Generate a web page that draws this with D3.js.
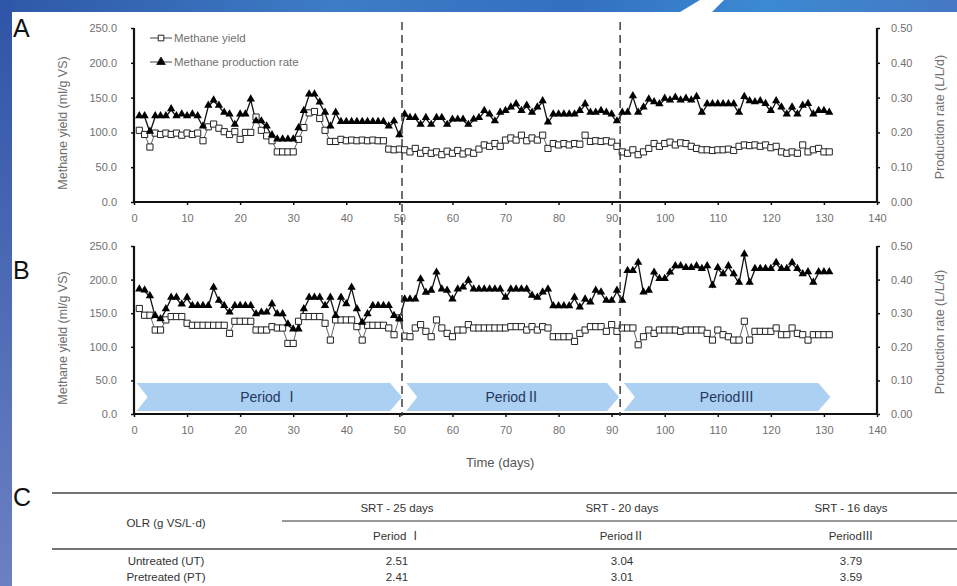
<!DOCTYPE html>
<html lang="en">
  <head>
    <meta charset="utf-8">
    <title>Methane yield and production rate</title>
    <script src="https://d3js.org/d3.v7.js"></script>
    <style>
      body { margin: 0; background: white; }
      text { font-family: "Liberation Sans", Arial, sans-serif; }
      .roman { font-family: "Liberation Sans", "Noto Sans CJK SC", sans-serif; }
    </style>
  </head>
  <body>
    <script>
    const w = 957;
    const h = 586;

    // days 1..131
    const days = d3.range(1, 132);

    const yieldA = [103,97,79,99,97,99,97,99,96,99, 97,99,88,108,112,106,101,97,101,90,
      100,100,122,103,95,88,72,72,72,72, 90,107,128,130,120,103,87,87,90,88,
      89,88,89,88,89,88,88,76,75,76, 75,72,77,70,74,70,72,68,73,70,
      74,69,72,70,76,82,80,84,80,89, 92,89,96,88,92,89,96,77,84,82,
      84,82,84,83,96,87,88,87,88,86, 80,72,70,75,68,72,77,84,80,84,
      86,82,85,84,80,77,75,75,74,75, 75,76,74,80,82,81,82,80,82,78,
      80,72,70,72,70,82,72,75,77,72, 72];
    const rateA = [0.245,0.245,0.20,0.245,0.245,0.245,0.265,0.245,0.25,0.245,
      0.25,0.245,0.215,0.275,0.29,0.275,0.255,0.25,0.22,0.25,
      0.25,0.293,0.23,0.23,0.215,0.19,0.178,0.178,0.178,0.178,
      0.21,0.26,0.307,0.307,0.284,0.255,0.215,0.255,0.228,0.228,
      0.228,0.228,0.228,0.228,0.228,0.228,0.228,0.215,0.23,0.19,
      0.25,0.24,0.24,0.22,0.24,0.22,0.24,0.24,0.22,0.235,
      0.235,0.235,0.22,0.235,0.24,0.26,0.25,0.23,0.255,0.26,
      0.27,0.279,0.26,0.275,0.255,0.27,0.288,0.227,0.25,0.25,
      0.25,0.25,0.25,0.26,0.279,0.255,0.255,0.26,0.255,0.25,
      0.23,0.255,0.255,0.302,0.255,0.27,0.293,0.285,0.279,0.295,
      0.29,0.298,0.29,0.295,0.29,0.30,0.255,0.279,0.279,0.279,
      0.279,0.279,0.279,0.255,0.30,0.288,0.285,0.288,0.28,0.26,
      0.288,0.27,0.25,0.27,0.25,0.275,0.28,0.25,0.26,0.26,
      0.255];

    const yieldB = [157,147,147,125,125,140,145,145,145,135, 132,132,132,132,132,132,132,120,138,138,
      138,138,125,125,125,130,128,128,105,105, 138,145,145,145,145,135,110,140,140,140,
      140,130,110,132,132,132,132,128,118,143, 116,115,128,133,123,115,140,128,120,115,
      125,125,133,128,128,128,128,128,128,128, 130,130,130,125,130,125,130,128,115,115,
      115,115,108,120,125,130,130,130,123,133, 123,128,128,128,103,115,125,120,125,125,
      125,125,123,125,125,125,125,120,110,125, 118,115,110,110,138,110,123,123,123,123,
      128,118,118,128,120,118,110,118,118,118, 118];
    const rateB = [0.369,0.366,0.349,0.29,0.28,0.31,0.344,0.344,0.324,0.344,
      0.32,0.32,0.32,0.32,0.374,0.335,0.32,0.30,0.32,0.32,
      0.32,0.32,0.295,0.30,0.30,0.325,0.295,0.295,0.265,0.25,
      0.25,0.31,0.344,0.344,0.344,0.32,0.344,0.29,0.344,0.325,
      0.374,0.31,0.27,0.295,0.32,0.32,0.32,0.32,0.29,0.28,
      0.339,0.339,0.339,0.399,0.359,0.365,0.419,0.369,0.365,0.339,
      0.369,0.375,0.395,0.369,0.369,0.369,0.369,0.369,0.369,0.344,
      0.369,0.369,0.369,0.369,0.35,0.344,0.36,0.369,0.319,0.319,
      0.319,0.319,0.344,0.315,0.339,0.33,0.365,0.36,0.335,0.335,
      0.365,0.335,0.424,0.424,0.448,0.36,0.365,0.419,0.40,0.40,
      0.419,0.438,0.438,0.433,0.433,0.438,0.43,0.438,0.38,0.433,
      0.414,0.438,0.414,0.389,0.473,0.389,0.43,0.43,0.43,0.43,
      0.448,0.43,0.43,0.448,0.43,0.414,0.42,0.389,0.42,0.42,
      0.42];

    const periodBreaks = [50.5, 91.6];
    const periodLabels = ["Period Ⅰ", "PeriodⅡ", "PeriodⅢ"];
    const periodStart = [0.5, 51.3, 92.3];
    const periodEnd = [50.5, 91.4, 131.2];

    const yieldTicks = [0, 50, 100, 150, 200, 250];
    const rateTicks = [0, 0.1, 0.2, 0.3, 0.4, 0.5];
    const dayTicks = d3.range(0, 141, 10);

    const srtHeaders = ["SRT - 25 days", "SRT - 20 days", "SRT - 16 days"];
    const olrRows = ["Untreated (UT)", "Pretreated (PT)"];
    const olrUT = ["2.51", "3.04", "3.79"];
    const olrPT = ["2.41", "3.01", "3.59"];

    const svg = d3.select("body")
      .append("svg")
      .attr("width", w)
      .attr("height", h);

    // blue frame
    const defs = svg.append("defs");
    const gTop = defs.append("linearGradient").attr("id", "topband");
    gTop.append("stop").attr("offset", "0%").attr("stop-color", "#2e58a8");
    gTop.append("stop").attr("offset", "35%").attr("stop-color", "#3d7cc6");
    gTop.append("stop").attr("offset", "60%").attr("stop-color", "#3370c0");
    gTop.append("stop").attr("offset", "80%").attr("stop-color", "#3b8ad2");
    gTop.append("stop").attr("offset", "100%").attr("stop-color", "#4678c4");
    const gLeft = defs.append("linearGradient").attr("id", "leftband")
      .attr("x1", 0).attr("y1", 0).attr("x2", 0).attr("y2", 1);
    gLeft.append("stop").attr("offset", "0%").attr("stop-color", "#2f55a8");
    gLeft.append("stop").attr("offset", "100%").attr("stop-color", "#6c80c2");

    svg.append("rect").attr("width", w).attr("height", 12).attr("fill", "url(#topband)");
    svg.append("rect").attr("width", 12).attr("height", h).attr("fill", "url(#leftband)");
    svg.append("path")
      .attr("d", "M700,0 L724,0 L712,12 L680,12 Z")
      .attr("fill", "white");

    const x = d3.scaleLinear().domain([0, 140]).range([134, 877]);

    const panels = [
      { key: "A", top: 28, bottom: 202, yields: yieldA, rates: rateA },
      { key: "B", top: 246, bottom: 414, yields: yieldB, rates: rateB }
    ];

    const grey = "#707070";

    panels.forEach((p, pi) => {
      const y = d3.scaleLinear().domain([0, 250]).range([p.bottom, p.top]);
      const r = d3.scaleLinear().domain([0, 0.5]).range([p.bottom, p.top]);
      const g = svg.append("g");

      // period arrows in panel B
      if (pi === 1) {
        const aTop = 383, aBot = 411, mid = (aTop + aBot) / 2;
        periodLabels.forEach((lab, i) => {
          const x0 = x(periodStart[i]), x1 = x(periodEnd[i]);
          g.append("path")
            .attr("d", `M${x0},${aTop} L${x1 - 12},${aTop} L${x1},${mid} L${x1 - 12},${aBot} L${x0},${aBot} L${x0 + 11},${mid} Z`)
            .attr("fill", "#acd0f1");
          g.append("text")
            .attr("class", "roman")
            .attr("x", (x0 + x1) / 2)
            .attr("y", mid + 5)
            .attr("text-anchor", "middle")
            .attr("font-size", 14)
            .attr("fill", "#24385e")
            .text(lab);
        });
      }

      // axes
      const left = g.append("g")
        .attr("transform", `translate(${x(0)},0)`)
        .call(d3.axisLeft(y).tickValues(yieldTicks).tickFormat(d3.format(".1f")).tickSize(3).tickPadding(14));
      const right = g.append("g")
        .attr("transform", `translate(${x(140)},0)`)
        .call(d3.axisRight(r).tickValues(rateTicks).tickFormat(d3.format(".2f")).tickSize(3).tickPadding(11));
      const bottom = g.append("g")
        .attr("transform", `translate(0,${p.bottom})`)
        .call(d3.axisBottom(x).tickValues(dayTicks).tickSize(3).tickPadding(9));
      [left, right, bottom].forEach(ax => {
        ax.select(".domain").attr("stroke", "#111").attr("stroke-width", 2.2);
        ax.selectAll(".tick line").attr("stroke", "#111").attr("stroke-width", 1.5);
        ax.selectAll(".tick text").attr("fill", grey).attr("font-size", 11)
          .attr("font-family", "'Liberation Sans', Arial, sans-serif");
      });
      left.select(".domain").attr("d", `M0,${p.bottom}V${p.top}`);
      right.select(".domain").attr("d", `M0,${p.bottom}V${p.top}`);
      bottom.select(".domain").attr("d", `M${x(0)},0H${x(140)}`);

      g.append("text")
        .attr("transform", `translate(67,${(p.top + p.bottom) / 2 + 8}) rotate(-90)`)
        .attr("text-anchor", "middle")
        .attr("font-size", 12.5)
        .attr("fill", grey)
        .text("Methane yield (ml/g VS)");
      g.append("text")
        .attr("transform", `translate(944,${(p.top + p.bottom) / 2 + 2}) rotate(-90)`)
        .attr("text-anchor", "middle")
        .attr("font-size", 12.5)
        .attr("fill", grey)
        .text("Production rate (L/L/d)");

      // series
      const lineY = d3.line().x((d, i) => x(days[i])).y(d => y(d));
      const lineR = d3.line().x((d, i) => x(days[i])).y(d => r(d));
      g.append("path").datum(p.yields).attr("d", lineY)
        .attr("fill", "none").attr("stroke", "#666").attr("stroke-width", 1);
      g.append("path").datum(p.rates).attr("d", lineR)
        .attr("fill", "none").attr("stroke", "#111").attr("stroke-width", 1.3);

      const sq = d3.symbol(d3.symbolSquare, 38);
      const tri = d3.symbol(d3.symbolTriangle, 30);
      g.append("g").selectAll("path")
        .data(p.yields)
        .join("path")
        .attr("transform", (d, i) => `translate(${x(days[i])},${y(d)})`)
        .attr("d", sq)
        .attr("fill", "white")
        .attr("stroke", "#222")
        .attr("stroke-width", 1);
      g.append("g").selectAll("path")
        .data(p.rates)
        .join("path")
        .attr("transform", (d, i) => `translate(${x(days[i])},${r(d) - 1})`)
        .attr("d", tri)
        .attr("fill", "#000");

      g.append("text")
        .attr("x", 13)
        .attr("y", pi === 0 ? 37 : 279)
        .attr("font-size", 25)
        .attr("fill", "#111")
        .text(p.key);
    });

    // dashed period lines
    periodBreaks.forEach(d => {
      svg.append("line")
        .attr("x1", x(d)).attr("x2", x(d))
        .attr("y1", 22).attr("y2", 416)
        .attr("stroke", "#333")
        .attr("stroke-width", 1.4)
        .attr("stroke-dasharray", "8,5");
    });

    // legend
    const leg = svg.append("g");
    const legItems = [
      { label: "Methane yield", sym: d3.symbolSquare, fill: "white", y: 38 },
      { label: "Methane production rate", sym: d3.symbolTriangle, fill: "#000", y: 62 }
    ];
    legItems.forEach(it => {
      leg.append("line").attr("x1", 150).attr("x2", 172).attr("y1", it.y).attr("y2", it.y)
        .attr("stroke", "#444").attr("stroke-width", 1);
      leg.append("path").attr("transform", `translate(161,${it.y})`)
        .attr("d", d3.symbol(it.sym, 32))
        .attr("fill", it.fill).attr("stroke", "#222").attr("stroke-width", 1);
      leg.append("text").attr("x", 174).attr("y", it.y + 4)
        .attr("font-size", 11.5).attr("fill", grey).text(it.label);
    });

    svg.append("text")
      .attr("x", x(69)).attr("y", 467)
      .attr("text-anchor", "middle")
      .attr("font-size", 13)
      .attr("fill", "#555")
      .text("Time (days)");

    // table C
    const t = svg.append("g");
    t.append("text").attr("x", 13).attr("y", 506).attr("font-size", 25).attr("fill", "#111").text("C");
    const colX = [397, 622, 851];
    t.append("line").attr("x1", 52).attr("x2", w).attr("y1", 493).attr("y2", 493)
      .attr("stroke", "#444").attr("stroke-width", 1.5);
    t.append("line").attr("x1", 282).attr("x2", w).attr("y1", 521).attr("y2", 521)
      .attr("stroke", "#777").attr("stroke-width", 1.3);
    t.append("line").attr("x1", 52).attr("x2", w).attr("y1", 549).attr("y2", 549)
      .attr("stroke", "#444").attr("stroke-width", 1.5);
    t.append("text").attr("x", 166).attr("y", 527).attr("text-anchor", "middle")
      .attr("font-size", 11.5).attr("fill", "#333").text("OLR (g VS/L·d)");
    srtHeaders.forEach((s, i) => {
      t.append("text").attr("x", colX[i]).attr("y", 512).attr("text-anchor", "middle")
        .attr("font-size", 11.5).attr("fill", "#333").text(s);
      t.append("text").attr("class", "roman").attr("x", colX[i]).attr("y", 540).attr("text-anchor", "middle")
        .attr("font-size", 11.5).attr("fill", "#333").text(periodLabels[i]);
      t.append("text").attr("x", colX[i]).attr("y", 565).attr("text-anchor", "middle")
        .attr("font-size", 11.5).attr("fill", "#333").text(olrUT[i]);
      t.append("text").attr("x", colX[i]).attr("y", 581).attr("text-anchor", "middle")
        .attr("font-size", 11.5).attr("fill", "#333").text(olrPT[i]);
    });
    olrRows.forEach((lab, i) => {
      t.append("text").attr("x", 166).attr("y", 565 + i * 16).attr("text-anchor", "middle")
        .attr("font-size", 11.5).attr("fill", "#333").text(lab);
    });
    </script>
  </body>
</html>
